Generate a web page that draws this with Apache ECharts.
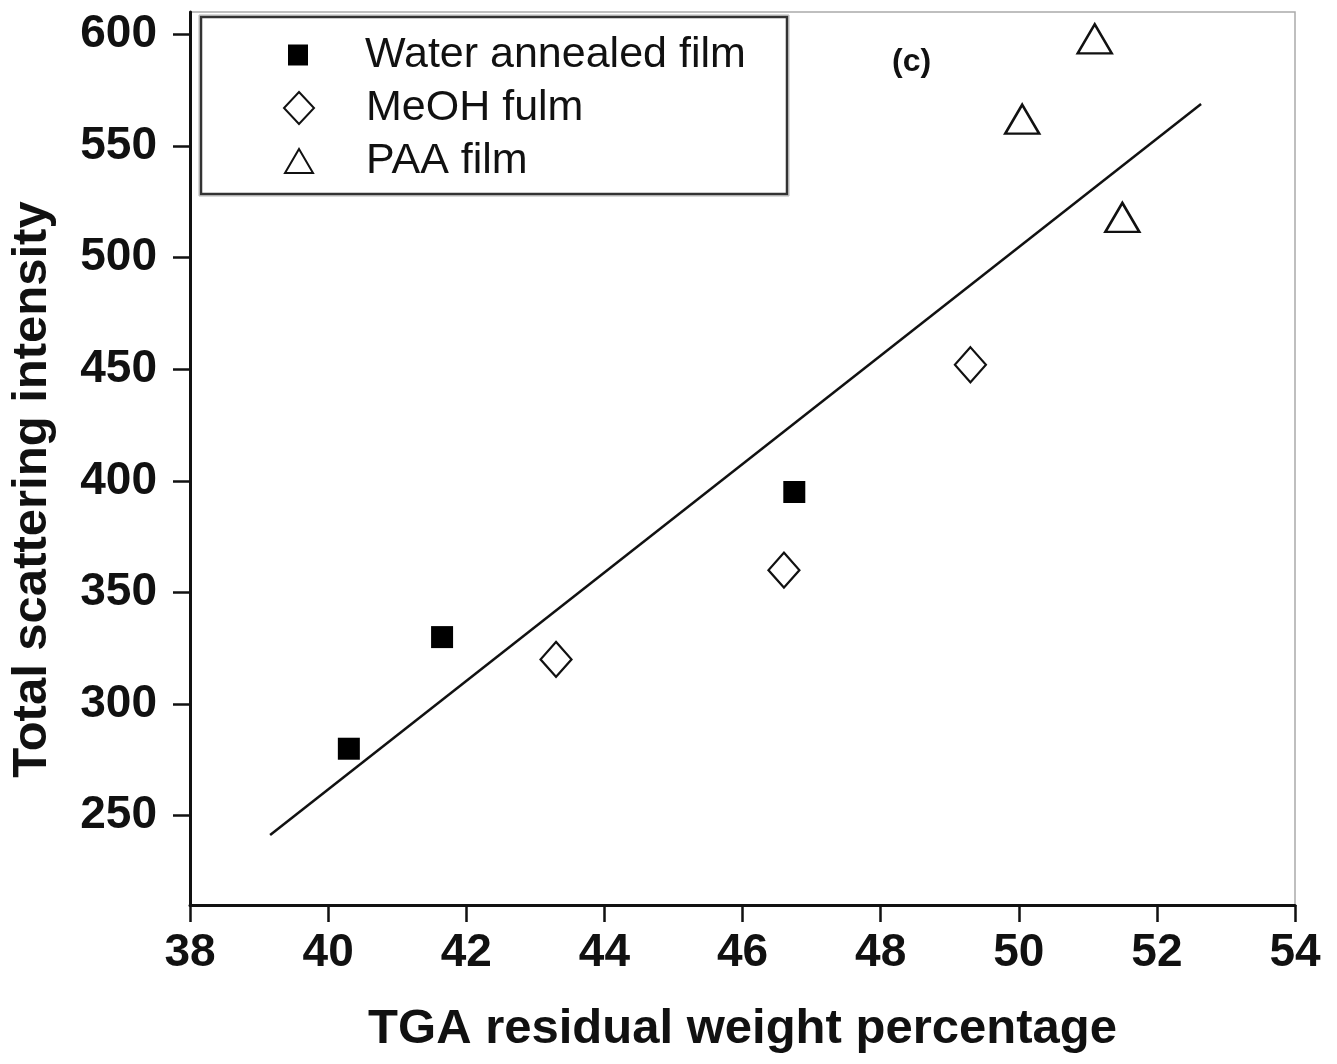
<!DOCTYPE html>
<html>
<head>
<meta charset="utf-8">
<script src="https://cdn.jsdelivr.net/npm/echarts@6/dist/echarts.min.js"></script>
<style>
  html, body { margin: 0; padding: 0; background: #fff; }
  #chart { width: 1337px; height: 1064px; }
</style>
</head>
<body>
<div id="chart"></div>
<script>
// Residual weight (%) vs. total scattering intensity for each film type
const waterX = [40.3, 41.65, 46.75];
const waterY = [280, 330, 395];
const meohX = [43.3, 46.6, 49.3];
const meohY = [320, 360, 452];
const paaX = [50.05, 51.1, 51.5];
const paaY = [562, 598, 518];

// Linear fit drawn across the data range
const fitX = [39.16, 52.64];
const fitY = [241.4, 568.8];

const xTicks = [38, 40, 42, 44, 46, 48, 50, 52, 54];
const yTicks = [250, 300, 350, 400, 450, 500, 550, 600];

const seriesNames = ['Water annealed film', 'MeOH fulm', 'PAA film'];

const FONT = '"Liberation Sans", Arial, Helvetica, sans-serif';

function pairs(xs, ys) {
  return xs.map((x, i) => [x, ys[i]]);
}

const chart = echarts.init(document.getElementById('chart'), null, { renderer: 'canvas' });

const legendText = {
  fontFamily: FONT,
  fontSize: 43,
  color: '#111',
  lineHeight: 44
};

chart.setOption({
  backgroundColor: '#fff',
  animation: false,
  title: {
    text: '(c)',
    left: 892,
    top: 46,
    padding: 0,
    textStyle: { fontFamily: FONT, fontSize: 32, fontWeight: 'bold', color: '#111' }
  },
  grid: {
    left: 190, top: 12, right: 42, bottom: 159,
    show: true,
    borderColor: '#aaa',
    borderWidth: 1.5,
    backgroundColor: 'transparent'
  },
  legend: [
    {
      data: [seriesNames[0]], orient: 'vertical', left: 288, top: 33, padding: 0,
      itemWidth: 20, itemHeight: 21,
      textStyle: Object.assign({ padding: [0, 0, 0, 52] }, legendText)
    },
    {
      data: [seriesNames[1]], orient: 'vertical', left: 283, top: 86, padding: 0,
      itemWidth: 30, itemHeight: 32,
      textStyle: Object.assign({ padding: [0, 0, 0, 47] }, legendText)
    },
    {
      data: [seriesNames[2]], orient: 'vertical', left: 284, top: 139, padding: 0,
      itemWidth: 28, itemHeight: 24,
      textStyle: Object.assign({ padding: [0, 0, 0, 48] }, legendText)
    }
  ],
  graphic: [
    {
      type: 'rect',
      shape: { x: 199, y: 15, width: 590, height: 181 },
      style: { fill: 'none', stroke: '#b5b5b5', lineWidth: 1 },
      silent: true, z: 0
    },
    {
      type: 'rect',
      shape: { x: 201, y: 17, width: 586, height: 177 },
      style: { fill: 'none', stroke: '#333', lineWidth: 2.5 },
      silent: true, z: 0
    }
  ],
  xAxis: {
    type: 'value',
    min: 38, max: 54, interval: 2,
    name: 'TGA residual weight percentage',
    nameLocation: 'middle',
    nameGap: 100,
    nameTextStyle: { fontFamily: FONT, fontSize: 49, fontWeight: 'bold', color: '#111' },
    axisLine: { show: true, onZero: false, lineStyle: { color: '#111', width: 3 } },
    axisTick: { show: true, inside: false, length: 17, lineStyle: { color: '#111', width: 2.5 } },
    axisLabel: {
      margin: 25,
      fontFamily: FONT, fontSize: 46, fontWeight: 'bold', color: '#111',
      formatter: v => (xTicks.indexOf(v) >= 0 ? String(v) : '')
    },
    splitLine: { show: false }
  },
  yAxis: {
    type: 'value',
    min: 210, max: 610,
    name: 'Total scattering intensity',
    nameLocation: 'middle',
    nameGap: 133,
    nameRotate: 90,
    nameTextStyle: {
      fontFamily: FONT, fontSize: 49, fontWeight: 'bold', color: '#111',
      padding: [0, 62, 0, 0]
    },
    axisLine: { show: true, onZero: false, lineStyle: { color: '#111', width: 3 } },
    axisTick: { show: true, inside: false, length: 17, customValues: yTicks, lineStyle: { color: '#111', width: 2.5 } },
    axisLabel: {
      margin: 33,
      customValues: yTicks,
      fontFamily: FONT, fontSize: 46, fontWeight: 'bold', color: '#111'
    },
    splitLine: { show: false }
  },
  series: [
    {
      name: 'fit',
      type: 'line',
      data: pairs(fitX, fitY),
      showSymbol: false,
      symbol: 'none',
      lineStyle: { color: '#111', width: 2.5 },
      silent: true,
      z: 1
    },
    {
      name: seriesNames[0],
      type: 'scatter',
      data: pairs(waterX, waterY),
      symbol: 'rect',
      symbolSize: 22,
      itemStyle: { color: '#000', borderColor: '#000', borderWidth: 0, opacity: 1 },
      z: 3
    },
    {
      name: seriesNames[1],
      type: 'scatter',
      data: pairs(meohX, meohY),
      symbol: 'diamond',
      symbolSize: [31, 35],
      itemStyle: { color: '#fff', borderColor: '#111', borderWidth: 2.2, opacity: 1 },
      z: 3
    },
    {
      name: seriesNames[2],
      type: 'scatter',
      data: pairs(paaX, paaY),
      symbol: 'triangle',
      symbolSize: [34, 29],
      itemStyle: { color: '#fff', borderColor: '#111', borderWidth: 2.5, opacity: 1 },
      z: 3
    }
  ]
});
</script>
</body>
</html>
